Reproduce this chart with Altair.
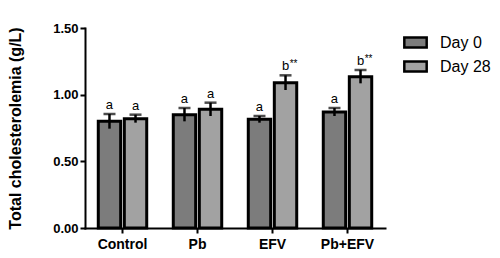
import altair as alt
import pandas as pd

groups = ["Control", "Pb", "EFV", "Pb+EFV"]
days = ["Day 0", "Day 28"]
day0_mean = [0.80, 0.85, 0.815, 0.87]
day0_sd = [0.055, 0.05, 0.025, 0.03]
day28_mean = [0.82, 0.89, 1.09, 1.135]
day28_sd = [0.03, 0.05, 0.055, 0.05]
day0_letter = ["a", "a", "a", "a"]
day28_letter = ["a", "a", "b", "b"]
day28_stars = ["", "", "**", "**"]

rows = []
for i, g in enumerate(groups):
    rows.append(dict(group=g, day="Day 0", mean=day0_mean[i], sd=day0_sd[i],
                     letter=day0_letter[i], stars=""))
    rows.append(dict(group=g, day="Day 28", mean=day28_mean[i], sd=day28_sd[i],
                     letter=day28_letter[i], stars=day28_stars[i]))
df = pd.DataFrame(rows)
df["lo"] = df["mean"] - df["sd"]
df["hi"] = df["mean"] + df["sd"]

FONT = "Liberation Sans"

x = alt.X("group:N", sort=groups, title=None,
          scale=alt.Scale(paddingInner=1/3, paddingOuter=1/6),
          axis=alt.Axis(labelAngle=0, labelFont=FONT, labelFontSize=14,
                        labelFontWeight="bold", labelColor="black",
                        domainColor="black", domainWidth=2, tickColor="black",
                        tickWidth=2, tickSize=5, labelPadding=4))
xo = alt.XOffset("day:N", sort=days,
                 scale=alt.Scale(paddingInner=0.14, paddingOuter=0.03))
yscale = alt.Scale(domain=[0, 1.5])

base = alt.Chart(df)

bars = base.mark_bar(stroke="black", strokeWidth=3, strokeJoin="miter").encode(
    x=x, xOffset=xo,
    y=alt.Y("mean:Q", scale=yscale, title="Total cholesterolemia (g/L)",
            axis=alt.Axis(values=[0, 0.5, 1.0, 1.5], format=".2f",
                          labelFont=FONT, labelFontSize=13, labelFontWeight="bold",
                          labelColor="black", domainColor="black", domainWidth=2,
                          tickColor="black", tickWidth=2, tickSize=5,
                          grid=False, titleFont=FONT, titleFontSize=16,
                          titleFontWeight="bold", titleColor="black",
                          titleX=-62, titleY=100, titleAngle=270,
                          titleBaseline="bottom", titleAlign="center")),
    fill=alt.Fill("day:N", sort=days,
                  scale=alt.Scale(domain=days, range=["#7c7c7c", "#a2a2a2"]),
                  legend=alt.Legend(title=None, orient="none", legendX=318,
                                    legendY=2, labelFont=FONT, labelFontSize=16,
                                    labelColor="black", padding=0,
                                    symbolType="M-1,-0.45H1V0.45H-1Z",
                                    symbolSize=500, symbolStrokeColor="black",
                                    symbolStrokeWidth=2.5, symbolOpacity=1,
                                    rowPadding=1, labelOffset=12)),
)

err = base.mark_rule(color="black", strokeWidth=2.5).encode(
    x=x, xOffset=xo, y=alt.Y("lo:Q", scale=yscale), y2="hi:Q")

caps = base.mark_tick(color="black", thickness=2.5, size=12, orient="horizontal").encode(
    x=x, xOffset=xo, y=alt.Y("hi:Q", scale=yscale))

letters = base.mark_text(font=FONT, fontSize=13, baseline="bottom", dy=-2,
                         color="black").encode(
    x=x, xOffset=xo, y=alt.Y("hi:Q", scale=yscale), text="letter:N")

stars = base.transform_filter(alt.datum.stars != "").mark_text(
    font=FONT, fontSize=10, baseline="bottom", dy=-6, dx=8, color="black").encode(
    x=x, xOffset=xo, y=alt.Y("hi:Q", scale=yscale), text="stars:N")

chart = alt.layer(bars, err, caps, letters, stars).properties(
    width=300, height=200,
    autosize=alt.AutoSizeParams(type="none"),
    padding={"left": 77, "top": 20, "right": 107, "bottom": 22},
).configure_view(stroke=None).configure_axis(domainCap="square")

chart.save("out.html", embed_options={"renderer": "svg", "actions": False})
